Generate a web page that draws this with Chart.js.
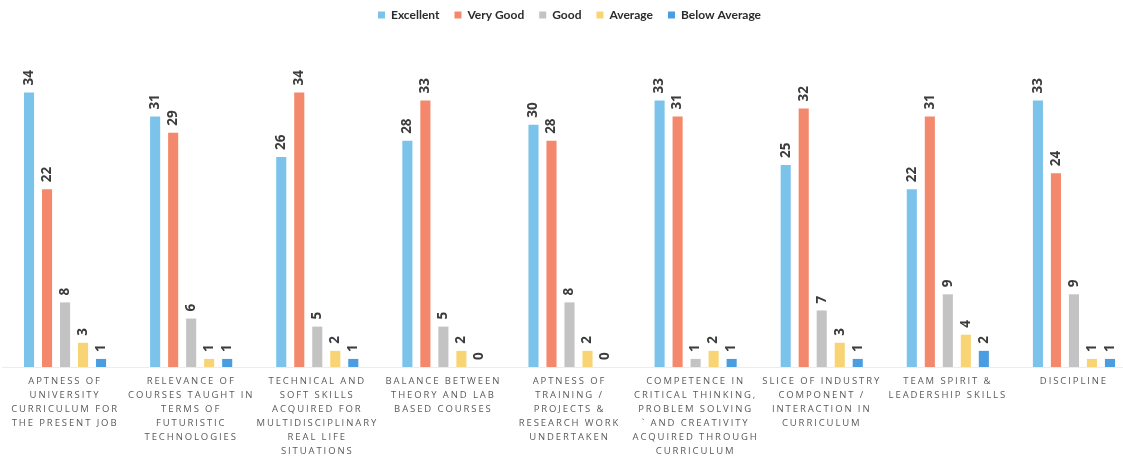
<!DOCTYPE html>
<html>
<head>
<meta charset="utf-8">
<script src="https://cdn.jsdelivr.net/npm/chart.js@4/dist/chart.umd.min.js"></script>
<style>
  html, body { margin: 0; padding: 0; background: #fff; overflow: hidden; }
  #wrap { width: 1137px; height: 456px; }
</style>
</head>
<body>
<div id="wrap"><canvas id="grafico"></canvas></div>
<script>
const categorias = [
    ['APTNESS OF', 'UNIVERSITY', 'CURRICULUM FOR', 'THE PRESENT JOB'],
    ['RELEVANCE OF', 'COURSES TAUGHT IN', 'TERMS OF', 'FUTURISTIC', 'TECHNOLOGIES'],
    ['TECHNICAL AND', 'SOFT SKILLS', 'ACQUIRED FOR', 'MULTIDISCIPLINARY', 'REAL LIFE', 'SITUATIONS'],
    ['BALANCE BETWEEN', 'THEORY AND LAB', 'BASED COURSES'],
    ['APTNESS OF', 'TRAINING /', 'PROJECTS &', 'RESEARCH WORK', 'UNDERTAKEN'],
    ['COMPETENCE IN', 'CRITICAL THINKING,', 'PROBLEM SOLVING', '` AND CREATIVITY', 'ACQUIRED THROUGH', 'CURRICULUM'],
    ['SLICE OF INDUSTRY', 'COMPONENT /', 'INTERACTION IN', 'CURRICULUM'],
    ['TEAM SPIRIT &', 'LEADERSHIP SKILLS'],
    ['DISCIPLINE'],
];

const excellent    = [34, 31, 26, 28, 30, 33, 25, 22, 33];
const veryGood     = [22, 29, 34, 33, 28, 31, 32, 31, 24];
const good         = [8, 6, 5, 5, 8, 1, 7, 9, 9];
const average      = [3, 1, 2, 2, 2, 2, 3, 4, 1];
const belowAverage = [1, 1, 1, 0, 0, 1, 1, 2, 1];

const cores = ['#7cc3ec', '#f4886c', '#c3c3c3', '#f8d474', '#4a9de0'];

// rotated value labels on top of each bar
const rotulos = {
    id: 'rotulos',
    afterDatasetsDraw(chart) {
        const ctx = chart.ctx;
        ctx.save();
        ctx.font = 'bold 13.5px "Open Sans"';
        ctx.fillStyle = '#3b3b3b';
        ctx.textAlign = 'left';
        ctx.textBaseline = 'middle';
        chart.data.datasets.forEach((ds, i) => {
            chart.getDatasetMeta(i).data.forEach((bar, j) => {
                ctx.save();
                ctx.translate(bar.x, bar.y - 7);
                ctx.rotate(-Math.PI / 2);
                ctx.fillText(String(ds.data[j]), 0, 0);
                ctx.restore();
            });
        });
        ctx.restore();
    }
};

// spaced out category text, like the original
const espacado = {
    id: 'espacado',
    beforeDraw(chart) {
        const xs = chart.scales.x;
        if (xs._espacado) return;
        const orig = xs.drawLabels.bind(xs);
        xs.drawLabels = function (area) {
            const c = this.ctx;
            const antes = c.letterSpacing;
            c.letterSpacing = '1.9px';
            orig(area);
            c.letterSpacing = antes || '0px';
        };
        xs._espacado = true;
    }
};

const data = {
    labels: categorias,
    datasets: [
        { label: 'Excellent', data: excellent, backgroundColor: cores[0] },
        { label: 'Very Good', data: veryGood, backgroundColor: cores[1] },
        { label: 'Good', data: good, backgroundColor: cores[2] },
        { label: 'Average', data: average, backgroundColor: cores[3] },
        { label: 'Below Average', data: belowAverage, backgroundColor: cores[4] },
    ]
};

const config = {
    type: 'bar',
    data: data,
    options: {
        responsive: true,
        maintainAspectRatio: false,
        animation: false,
        categoryPercentage: 0.714,
        barPercentage: 0.56,
        layout: {
            padding: { top: -6, left: 2, right: 0, bottom: -9 }
        },
        scales: {
            x: {
                grid: { display: false, drawTicks: false },
                border: { display: true, color: '#ececec' },
                ticks: {
                    autoSkip: false,
                    maxRotation: 0,
                    minRotation: 0,
                    padding: 7,
                    color: '#5a5a5a',
                    font: { family: '"Open Sans"', size: 9.5, lineHeight: '14px' }
                }
            },
            y: {
                display: false,
                min: 0,
                max: 41.6
            }
        },
        plugins: {
            legend: {
                position: 'top',
                labels: {
                    boxWidth: 7,
                    boxHeight: 7,
                    padding: 15,
                    color: '#2b2b2b',
                    font: { family: 'Lato', size: 12, weight: 'bold' }
                }
            },
            tooltip: { enabled: false }
        }
    },
    plugins: [rotulos, espacado]
};

const grafico = new Chart(document.getElementById('grafico'), config);
</script>
</body>
</html>
